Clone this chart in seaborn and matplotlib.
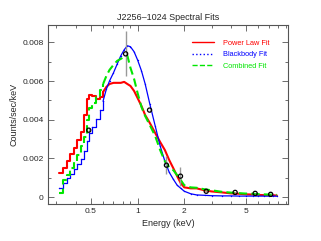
#!/usr/bin/env python3
# coding: utf-8

import numpy as np
import pandas as pd
import seaborn as sns
import matplotlib.pyplot as plt
from matplotlib.ticker import FixedLocator, NullFormatter, MultipleLocator
from matplotlib.lines import Line2D

# ------------------------------------------------
# Data
# ------------------------------------------------
energy = [0.31, 0.33, 0.35, 0.37, 0.39, 0.41, 0.43, 0.45, 0.47, 0.49,
          0.51, 0.54, 0.57, 0.60, 0.63, 0.66, 0.70, 0.74, 0.78, 0.82,
          0.86, 0.90, 0.95, 1.0, 1.06, 1.12, 1.2, 1.3, 1.4, 1.5,
          1.6, 1.7, 1.8, 1.9, 2.0, 2.2, 2.4, 2.7, 3.0, 3.5,
          4.0, 4.5, 5.0, 5.5, 6.0, 6.5, 7.0, 7.5, 7.9]

# counts/sec/keV, in units of 1e-3
power_law = [1.23, 1.49, 1.85, 2.22, 2.53, 2.95, 3.36, 4.24, 5.08, 5.28,
             5.23, 5.08, 5.18, 5.44, 5.70, 5.85, 5.91, 5.91, 5.91, 5.96,
             5.85, 5.75, 5.49, 5.13, 4.71, 4.24, 3.83, 3.31, 2.84, 2.43,
             1.91, 1.49, 1.08, 0.71, 0.50, 0.45, 0.45, 0.35, 0.29, 0.24,
             0.19, 0.17, 0.14, 0.13, 0.11, 0.10, 0.09, 0.09, 0.08]

blackbody = [0.45, 0.71, 0.97, 1.18, 1.44, 1.70, 1.96, 2.37, 2.89, 3.31,
             3.62, 4.04, 4.50, 4.97, 5.59, 6.01, 6.43, 6.89, 7.31, 7.62,
             7.83, 7.78, 7.52, 7.10, 6.53, 5.85, 4.81, 3.67, 2.63, 1.85,
             1.28, 0.92, 0.61, 0.45, 0.30, 0.17, 0.11, 0.09, 0.07, 0.06,
             0.06, 0.05, 0.05, 0.05, 0.05, 0.05, 0.05, 0.05, 0.05]

combined = [0.19, 0.87, 1.13, 1.49, 1.80, 2.17, 2.63, 3.10, 3.99, 4.61,
            4.87, 5.18, 5.54, 5.85, 6.27, 6.58, 6.84, 7.05, 7.15, 7.26,
            7.31, 6.69, 6.11, 5.39, 4.66, 4.19, 3.72, 3.15, 2.42, 1.85,
            1.54, 1.39, 1.13, 0.87, 0.61, 0.50, 0.48, 0.40, 0.35, 0.27,
            0.23, 0.20, 0.18, 0.17, 0.15, 0.14, 0.13, 0.12, 0.11]

# observed points with errors (1e-3)
obs_energy = [0.485, 0.838, 1.195, 1.535, 1.89, 2.77, 4.25, 5.72, 7.2]
obs_rate = [3.46, 7.41, 4.50, 1.65, 1.08, 0.30, 0.24, 0.19, 0.14]
obs_err = [0.10, 1.17, 0.10, 0.45, 0.50, 0.05, 0.04, 0.03, 0.03]

labels = ["Power Law Fit", "Blackbody Fit", "Combined Fit"]
colors = ["#ff0000", "#0000ff", "#00e600"]

# channel steps are only visible below this energy
step_limit = 0.6

# ------------------------------------------------
# Plot
# ------------------------------------------------
sns.set_theme(style="ticks")
plt.rcParams['font.family'] = ['Liberation Sans', 'DejaVu Sans']

df = pd.DataFrame({
    "Energy": energy * 3,
    "Rate": np.array(power_law + blackbody + combined) * 1e-3,
    "Model": [labels[0]] * len(energy) + [labels[1]] * len(energy) + [labels[2]] * len(energy),
})

fig = plt.figure(figsize=(3.21, 2.41), dpi=100)
ax = fig.add_axes([0.1495, 0.1535, 0.7475, 0.7425])

styles = {labels[0]: dict(lw=1.5, linestyle="-"),
          labels[1]: dict(lw=0.9, linestyle="-", marker=".", markersize=2.0,
                          markeredgewidth=0),
          labels[2]: dict(lw=1.5, linestyle=(0, (4, 2)))}

for lab, col in zip(labels, colors):
    sub = df[df["Model"] == lab]
    low = sub[sub["Energy"] <= step_limit]
    high = sub[sub["Energy"] >= step_limit]
    sns.lineplot(data=low, x="Energy", y="Rate", ax=ax, color=col,
                 drawstyle="steps-post", legend=False, **styles[lab])
    sns.lineplot(data=high, x="Energy", y="Rate", ax=ax, color=col,
                 legend=False, **styles[lab])

obs = pd.DataFrame({"Energy": obs_energy, "Rate": np.array(obs_rate) * 1e-3,
                    "Err": np.array(obs_err) * 1e-3})
ax.vlines(obs["Energy"], obs["Rate"] - obs["Err"], obs["Rate"] + obs["Err"],
          color="#999999", lw=1.0, zorder=4)
sns.scatterplot(data=obs, x="Energy", y="Rate", ax=ax, s=9, marker="o",
                facecolor="none", edgecolor="black", linewidth=0.9, zorder=5)

ax.set_xscale("log")
ax.set_xlim(0.265, 9.3)
ax.set_ylim(-0.00036, 0.0089)
ax.xaxis.set_major_locator(FixedLocator([0.5, 1, 2, 5]))
ax.xaxis.set_major_formatter(plt.FixedFormatter(["0.5", "1", "2", "5"]))
ax.xaxis.set_minor_locator(FixedLocator([0.3, 0.4, 0.6, 0.7, 0.8, 0.9, 3, 4, 6, 7, 8, 9]))
ax.xaxis.set_minor_formatter(NullFormatter())
ax.yaxis.set_major_locator(FixedLocator([0, 0.002, 0.004, 0.006, 0.008]))
ax.yaxis.set_major_formatter(plt.FixedFormatter(["0", "0.002", "0.004", "0.006", "0.008"]))
ax.yaxis.set_minor_locator(MultipleLocator(0.001))

ax.tick_params(which="both", direction="in", top=True, right=True,
               labelsize=6, width=0.6, color="#555555", pad=3)
ax.tick_params(which="major", length=4)
ax.tick_params(which="minor", length=2.5)
for sp in ax.spines.values():
    sp.set_linewidth(0.8)
    sp.set_color("#555555")

ax.set_title("J2256\u20131024 Spectral Fits", fontsize=6.5, pad=4)
ax.set_xlabel("Energy (keV)", fontsize=6.5, labelpad=3)
ax.set_ylabel("Counts/sec/keV", fontsize=6.5, labelpad=3)

handles = [Line2D([], [], color=colors[0], lw=1.0),
           Line2D([], [], color=colors[1], lw=1.0, ls=":"),
           Line2D([], [], color=colors[2], lw=1.0, ls="--")]
leg = ax.legend(handles, labels, loc="upper right", frameon=False, fontsize=5.3,
                labelcolor=colors, handlelength=3.0, handletextpad=1.2,
                labelspacing=0.6, bbox_to_anchor=(0.95, 0.955))

plt.savefig("out.png", dpi=100)
